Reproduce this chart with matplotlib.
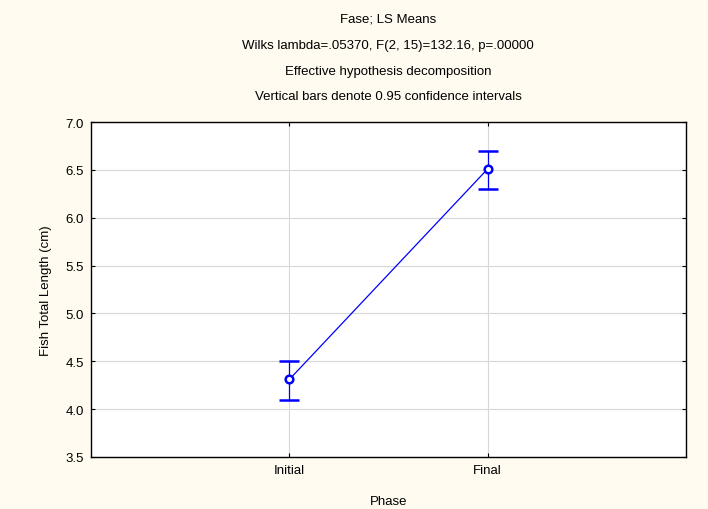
import matplotlib
matplotlib.use("Agg")
import matplotlib.pyplot as plt

categories = ["Initial", "Final"]
means = [4.31, 6.51]
ci_lower = [4.10, 6.30]
ci_upper = [4.50, 6.70]
yticks = [3.5, 4.0, 4.5, 5.0, 5.5, 6.0, 6.5, 7.0]

plt.rcParams['font.family'] = ['Liberation Sans', 'DejaVu Sans']

fig = plt.figure(figsize=(7.08, 5.10), dpi=100)
fig.patch.set_facecolor('#FFFBF0')
ax = fig.add_axes([91/708, 52/510, 595/708, 335/510])
ax.set_facecolor('white')

x = list(range(len(categories)))
yerr = [[m - l for m, l in zip(means, ci_lower)], [u - m for m, u in zip(means, ci_upper)]]
ax.errorbar(x, means, yerr=yerr, color='#0000FF', lw=0.9, elinewidth=0.9,
            capsize=7, capthick=0.9, marker='o', ms=5.5, mfc='white', mec='#0000FF', mew=1.8, zorder=3)

ax.set_xlim(-1, 2)
ax.set_ylim(3.5, 7.0)
ax.set_xticks(x)
ax.set_xticklabels(categories)
ax.set_yticks(yticks)
ax.set_yticklabels([f"{t:.1f}" for t in yticks])
ax.grid(True, color='#D8D8D8', lw=0.8)
ax.set_axisbelow(True)
ax.tick_params(direction='in', length=3, width=0.8, labelsize=9.5, top=True, right=True, pad=5)
for s in ax.spines.values():
    s.set_linewidth(1.0)
    s.set_color('black')

ax.set_xlabel("Phase", fontsize=9.5, labelpad=14)
ax.set_ylabel("Fish Total Length (cm)", fontsize=9.5, labelpad=10)

titles = ["Fase; LS Means",
          "Wilks lambda=.05370, F(2, 15)=132.16, p=.00000",
          "Effective hypothesis decomposition",
          "Vertical bars denote 0.95 confidence intervals"]
ys = [20, 46, 72, 97]
for t, yy in zip(titles, ys):
    fig.text(388/708, 1 - yy/510, t, ha='center', va='center', fontsize=9.5)

fig.savefig("out.png", dpi=100, facecolor=fig.get_facecolor())
